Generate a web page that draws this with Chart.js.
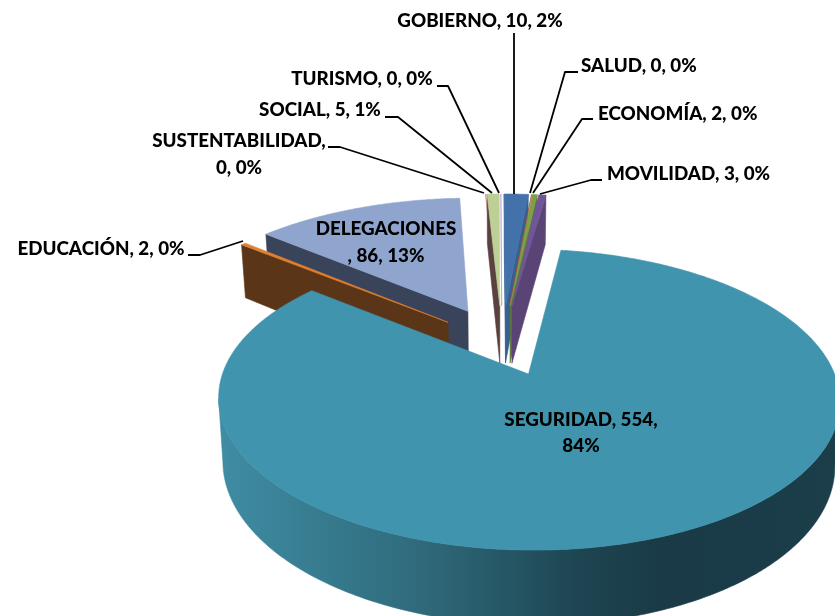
<!DOCTYPE html>
<html>
<head>
<meta charset="utf-8">
<script src="https://cdn.jsdelivr.net/npm/chart.js@4"></script>
<style>
  html,body{margin:0;padding:0;background:#fff}
  canvas{display:block}
</style>
</head>
<body>
<canvas id="chart" width="835" height="616"></canvas>
<script>
const categories = ["GOBIERNO","SALUD","ECONOMÍA","MOVILIDAD","SEGURIDAD","EDUCACIÓN","DELEGACIONES","SUSTENTABILIDAD","SOCIAL","TURISMO"];
const values = [10,0,2,3,554,2,86,0,5,0];
const topColors = ["#4371A9","#B5423C","#7F9E48","#70559B","#4094AE","#E08030","#8FA5CD","#C98C8A","#BCCF94","#A99BC0"];
const sideColors = ["#35608F","#8A322E","#5F7636","#5A4475","#2F6A7B","#5A3518","#39435A","#5B4040","#5B4040","#6B5F80"];
const explode = [85,85,85,85,70,72,80,85,85,85];

// orden de pintado: de atrás hacia adelante
const paintOrder = [6,5,7,9,8,0,1,2,3,4];

// vista en perspectiva del plato
const VIEW = {cx:502, cy:343, k:0.46, D:1800, H:60, baseScale:0.985, segRadius:295};

// etiquetas: ancla, alineación, corte de línea y guía
const labelLayout = [
  {i:0, x:480, y:21},
  {i:1, x:581, y:66, align:"left", guide:[[578,72],[565,72],[530,193]]},
  {i:2, x:598, y:114, align:"left", guide:[[593,119],[582,119],[533,193]]},
  {i:3, x:607, y:174, align:"left", guide:[[602,180],[591,180],[540,194]]},
  {i:4, x:581, y:420, brk:15, lh:26},
  {i:5, x:101, y:249, guide:[[188,255],[200,255],[243,241]]},
  {i:6, x:386, y:229, brk:12, lh:27},
  {i:7, x:239, y:141, brk:16, lh:27, guide:[[328,147],[340,147],[484,193]]},
  {i:8, x:320, y:110, guide:[[385,117],[398,117],[492,193]]},
  {i:9, x:362, y:79, guide:[[437,86],[448,86],[499,193]]}
];
const extraGuides = [[[514,33],[514,194]]];

function project(X,Y,bottom){
  const s = VIEW.D/(VIEW.D-Y);
  return {
    x: VIEW.cx + X*s*(bottom?VIEW.baseScale:1),
    y: VIEW.cy + VIEW.k*Y*s + (bottom?VIEW.H*s:0)
  };
}
function poly(ctx,pts,fill){
  ctx.beginPath();
  pts.forEach((p,j)=> j?ctx.lineTo(p.x,p.y):ctx.moveTo(p.x,p.y));
  ctx.closePath();
  ctx.fillStyle=fill; ctx.strokeStyle=fill; ctx.lineWidth=0.6;
  ctx.fill(); ctx.stroke();
}
function drawSlice(ctx,arc,i){
  const a1=arc.startAngle+Math.PI/2, a2=arc.endAngle+Math.PI/2, mid=(a1+a2)/2;
  const e=arc.options.offset, R= i===4 ? VIEW.segRadius : arc.outerRadius;
  const ox=e*Math.sin(mid), oy=-e*Math.cos(mid);
  const n=Math.max(2,Math.ceil((a2-a1)/0.01));
  const rim=[];
  for(let j=0;j<=n;j++){ const a=a1+(a2-a1)*j/n; rim.push({a, X:ox+R*Math.sin(a), Y:oy-R*Math.cos(a)}); }
  const first=rim[0], last=rim[n];
  const camDot=(nx,ny)=> nx*(0-ox)+ny*(VIEW.D-oy);
  if(values[i]>0){
    // caras de corte
    if(camDot(-Math.cos(a1),-Math.sin(a1))>0)
      poly(ctx,[project(ox,oy),project(first.X,first.Y),project(first.X,first.Y,true),project(ox,oy,true)],sideColors[i]);
    if(camDot(Math.cos(a2),Math.sin(a2))>0)
      poly(ctx,[project(ox,oy),project(last.X,last.Y),project(last.X,last.Y,true),project(ox,oy,true)],sideColors[i]);
    // pared exterior
    let wall=sideColors[i];
    if(i===4){
      wall=ctx.createLinearGradient(217,0,838,0);
      wall.addColorStop(0,"#3F8DA4"); wall.addColorStop(0.33,"#2F6A7B");
      wall.addColorStop(0.58,"#1E4552"); wall.addColorStop(0.72,"#193A46"); wall.addColorStop(1,"#1B3E4A");
    }
    const front=rim.filter(r=> Math.sin(r.a)*(0-r.X)-Math.cos(r.a)*(VIEW.D-r.Y)>0);
    if(front.length>1){
      poly(ctx,front.map(r=>project(r.X,r.Y)).concat(front.slice().reverse().map(r=>project(r.X,r.Y,true))),wall);
    }
  }
  // cara superior
  poly(ctx,[project(ox,oy)].concat(rim.map(r=>project(r.X,r.Y))),topColors[i]);
}
const total = values.reduce((a,b)=>a+b,0);
function labelText(i){ return categories[i]+", "+values[i]+", "+Math.round(values[i]/total*100)+"%"; }

const pie3d = {
  id:"pie3d",
  beforeDatasetsDraw(chart){
    const ctx=chart.ctx, arcs=chart.getDatasetMeta(0).data;
    ctx.save();
    paintOrder.forEach(i=>drawSlice(ctx,arcs[i],i));
    ctx.restore();
    return false;
  },
  afterDraw(chart){
    const ctx=chart.ctx;
    ctx.save();
    ctx.strokeStyle="#000"; ctx.lineWidth=1.8; ctx.lineJoin="round";
    const line=g=>{ ctx.beginPath(); g.forEach((p,j)=> j?ctx.lineTo(p[0],p[1]):ctx.moveTo(p[0],p[1])); ctx.stroke(); };
    extraGuides.forEach(line);
    labelLayout.forEach(l=>{ if(l.guide) line(l.guide); });
    ctx.fillStyle="#000"; ctx.font="900 18.8px Lato"; ctx.textBaseline="middle";
    labelLayout.forEach(l=>{
      ctx.textAlign=l.align||"center";
      const t=labelText(l.i);
      if(l.brk){
        ctx.fillText(t.slice(0,l.brk),l.x,l.y);
        ctx.fillText(t.slice(l.brk).trim(),l.x,l.y+l.lh);
      } else ctx.fillText(t,l.x,l.y);
    });
    ctx.restore();
  }
};

new Chart(document.getElementById("chart"),{
  type:"pie",
  data:{labels:categories,datasets:[{data:values,backgroundColor:topColors,offset:explode,radius:310,borderWidth:0,clip:false}]},
  options:{responsive:false,animation:false,events:[],rotation:-0.2,plugins:{legend:{display:false},tooltip:{enabled:false}}},
  plugins:[pie3d]
});
</script>
</body>
</html>
